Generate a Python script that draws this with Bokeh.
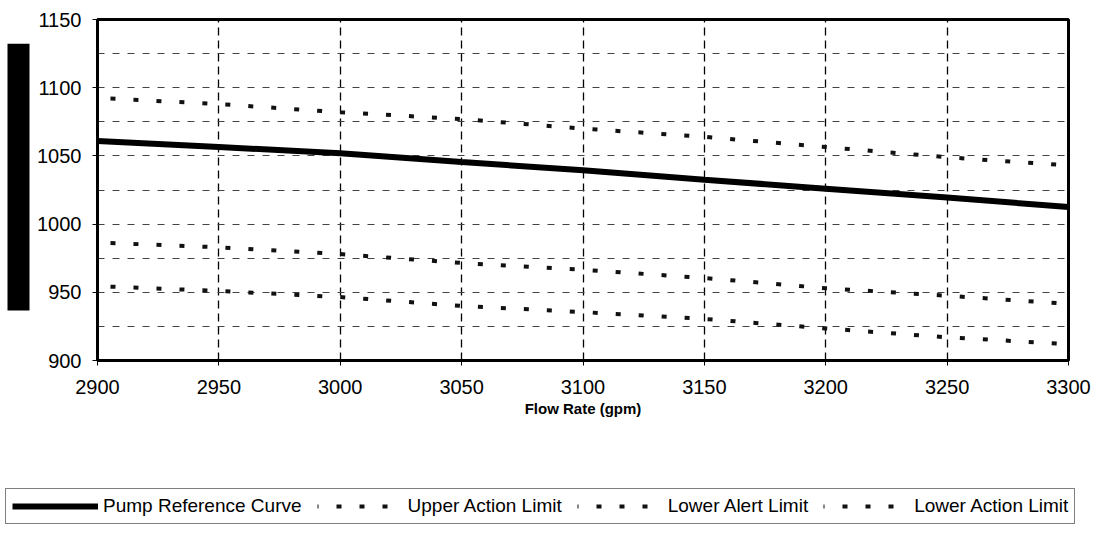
from bokeh.plotting import figure
from bokeh.layouts import column, row
from bokeh.models import FixedTicker, Legend, LegendItem, Title, Range1d
from bokeh.embed import file_html
from bokeh.resources import INLINE

flow = [2900, 2950, 3000, 3050, 3100, 3150, 3200, 3250, 3300]
pump_ref = [1061, 1056.5, 1052, 1045.5, 1039.5, 1032.5, 1026, 1019.5, 1012.5]
upper_action = [1092.5, 1088, 1082, 1077, 1070, 1064, 1056.5, 1049, 1043]
lower_alert = [986.5, 983, 978, 971.5, 966.5, 960.5, 953, 947.5, 941.5]
lower_action = [954.5, 951, 946.5, 940, 935.5, 930.5, 923.5, 917, 912]

series_names = ["Pump Reference Curve", "Upper Action Limit", "Lower Alert Limit", "Lower Action Limit"]

x_ticks = [2900, 2950, 3000, 3050, 3100, 3150, 3200, 3250, 3300]
y_ticks = [900, 950, 1000, 1050, 1100, 1150]
y_grid = [925, 950, 975, 1000, 1025, 1050, 1075, 1100, 1125]

FONT = "Liberation Sans"

p = figure(width=1093, height=483, output_backend="svg", toolbar_location=None,
           x_range=Range1d(2900, 3300), y_range=Range1d(900, 1150),
           min_border_left=97, min_border_right=25, min_border_top=19,
           min_border_bottom=123)
p.background_fill_color = "white"
p.border_fill_color = "white"
p.outline_line_color = "black"
p.outline_line_width = 3

for ax in (p.xaxis, p.yaxis):
    ax.axis_line_color = "black"
    ax.axis_line_width = 3
    ax.major_tick_line_color = "black"
    ax.major_tick_in = 0
    ax.major_tick_out = 5
    ax.minor_tick_line_color = None
    ax.major_label_text_font = FONT
    ax.major_label_text_font_size = "20px"
    ax.major_label_text_color = "black"

p.xaxis.ticker = FixedTicker(ticks=x_ticks)
p.yaxis.ticker = FixedTicker(ticks=y_ticks)
p.xaxis.major_label_standoff = 14
p.yaxis.major_label_standoff = 11
p.xaxis.axis_label = "Flow Rate (gpm)"
p.xaxis.axis_label_text_font = FONT
p.xaxis.axis_label_text_font_style = "bold"
p.xaxis.axis_label_text_font_size = "15px"
p.xaxis.axis_label_text_color = "black"
p.xaxis.axis_label_standoff = 3

p.xgrid.ticker = FixedTicker(ticks=x_ticks[1:-1])
p.xgrid.grid_line_color = "black"
p.xgrid.grid_line_width = 1.3
p.xgrid.grid_line_dash = "8 5"
p.ygrid.ticker = FixedTicker(ticks=y_grid)
p.ygrid.grid_line_color = "#444444"
p.ygrid.grid_line_width = 1
p.ygrid.grid_line_dash = "7 8"

pump_kw = dict(line_color="black", line_width=6)
dot_kw = dict(line_color="#111111", line_width=4, line_dash="5 18", line_dash_offset=10)
p.line(flow, pump_ref, **pump_kw)
p.line(flow, upper_action, **dot_kw)
p.line(flow, lower_alert, **dot_kw)
p.line(flow, lower_action, **dot_kw)

bar = Title(text="\u00a0" * 48, text_font_size="20px", text_color="black",
            background_fill_color="black", align="left", offset=50, standoff=10)
p.add_layout(bar, "left")

# legend strip below the chart
q = figure(width=1093, height=63, output_backend="svg", toolbar_location=None,
           x_range=Range1d(0, 1), y_range=Range1d(0, 1),
           x_axis_location=None, y_axis_location=None,
           min_border=0, min_border_left=0, min_border_right=0,
           min_border_top=0, min_border_bottom=0)
try:
    q.frame_align = False
except Exception:
    pass
q.grid.visible = False
q.outline_line_color = None
q.background_fill_color = "white"
q.border_fill_color = "white"
off = [-5, -4]
sample_dot = dict(line_color="#111111", line_width=4, line_dash="5 18", line_dash_offset=4)
l0 = q.line(off, off, **pump_kw)
l1 = q.line(off, off, **sample_dot)
l2 = q.line(off, off, **sample_dot)
l3 = q.line(off, off, **sample_dot)

legend = Legend(items=[LegendItem(label=n, renderers=[r]) for n, r in zip(series_names, [l0, l1, l2, l3])],
                orientation="horizontal", location="top_left", margin=5)
legend.label_text_font = FONT
legend.label_text_font_size = "19px"
legend.label_text_color = "black"
legend.glyph_width = 86
legend.label_standoff = 5
legend.spacing = 15
legend.padding = 6
legend.border_line_color = "black"
legend.border_line_width = 1
legend.background_fill_color = "white"
legend.background_fill_alpha = 1
q.add_layout(legend)

layout = column(p, row(q), spacing=0)
open("out.html", "w").write(file_html(layout, INLINE))
